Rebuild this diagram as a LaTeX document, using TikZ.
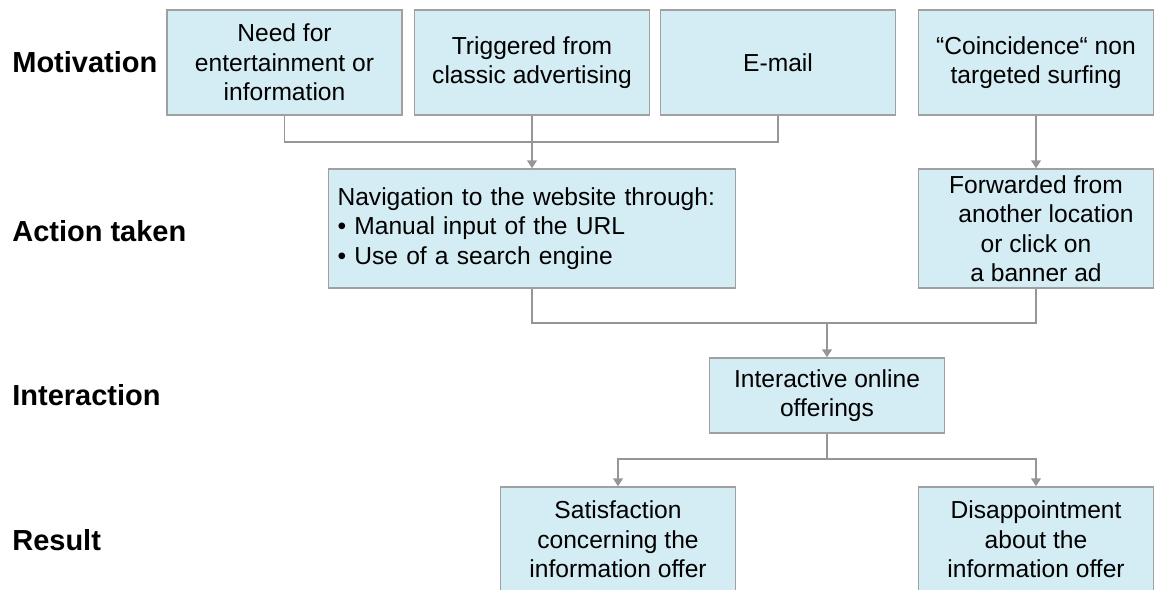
\documentclass[tikz,border=0pt]{standalone}
\usepackage{fontspec}
\setmainfont{Liberation Sans}
\usepackage{xcolor}
\usepackage{tikz}
\usetikzlibrary{positioning,arrows.meta,calc}
\definecolor{bleu}{RGB}{212,236,243}
\definecolor{bord}{RGB}{160,160,160}
\definecolor{trait}{RGB}{150,150,150}

\begin{document}
\begin{tikzpicture}[
  x=0.02cm, y=-0.02cm,
  bloc/.style={
    draw=bord, fill=bleu, line width=0.85pt,
    minimum width=4.7cm, minimum height=2.1cm,
    align=center, inner sep=0pt,
    font=\fontsize{14}{16.8}\selectfont
  },
  niveau/.style={anchor=west, inner sep=0pt,
    font=\fontsize{16.5}{19}\selectfont\bfseries},
  lien/.style={draw=trait, line width=0.85pt},
  fl/.style={lien, -{Triangle[width=0.2cm, length=0.16cm]}}
]
  \clip (0,0) rectangle (1155,590);

  % --- Niveaux ---
  \node[niveau] (motiv) at (12, 62)  {Motivation};
  \node[niveau] (action) at (12, 231) {Action taken};
  \node[niveau] (inter) at (12, 395) {Interaction};
  \node[niveau] (res)  at (12, 540) {Result};

  % --- Noeuds ---
  \node[bloc] (besoin) at (284.5, 62.5)
    {Need for\\entertainment or\\information};
  \node[bloc] (pub)    at (532, 62.5)
    {Triggered from\\classic advertising};
  \node[bloc] (mail)   at (778, 62.5) {E-mail};
  \node[bloc] (hasard) at (1036, 62.5)
    {“Coincidence“ non\\targeted surfing};

  \node[bloc, minimum width=8.14cm, minimum height=2.38cm,
        text width=7.78cm, align=left] (navig) at (532, 228.5)
    {Navigation to the website through:\\
     \textbullet\ Manual input of the URL\\
     \textbullet\ Use of a search engine};
  \node[bloc, minimum height=2.38cm] (renvoi) at (1036, 228.5)
    {Forwarded from\\\hspace*{0.4cm}another location\\
     or click on\hspace*{1.28cm}\\a banner ad};

  \node[bloc, minimum height=1.5cm] (offre) at (827, 395.5)
    {Interactive online\\offerings};

  \node[bloc] (satis) at (618, 539.5)
    {Satisfaction\\concerning the\\information offer};
  \node[bloc] (decep) at (1036, 539.5)
    {Disappointment\\about the\\information offer};

  % --- Fleches ---
  \coordinate (bus1) at (532, 142);
  \draw[lien] (besoin.south) |- (bus1) -| (mail.south);
  \draw[fl] (pub.south) -- (navig.north);
  \draw[fl] (hasard.south) -- (renvoi.north);

  \coordinate (bus2) at (827, 323);
  \draw[lien] (navig.south) |- (bus2) -| (renvoi.south);
  \draw[fl] (bus2) -- (offre.north);

  \coordinate (bus3) at (827, 459);
  \draw[lien] (offre.south) -- (bus3);
  \draw[fl] (bus3) -| (satis.north);
  \draw[fl] (bus3) -| (decep.north);

\end{tikzpicture}
\end{document}
